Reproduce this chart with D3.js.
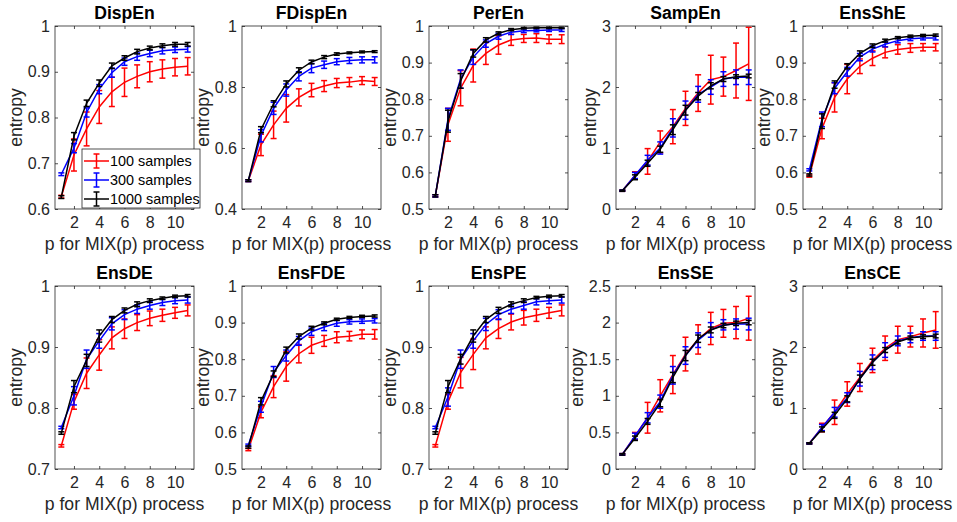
<!DOCTYPE html>
<html>
<head>
<meta charset="utf-8">
<script src="https://cdn.jsdelivr.net/npm/d3@7/dist/d3.min.js"></script>
<style>
  body { margin: 0; background: #fff; }
  svg { font-family: "Liberation Sans", Arial, sans-serif; }
</style>
</head>
<body>
<svg width="957" height="522"></svg>
<script>
/*global d3*/
var xs = [1, 2, 3, 4, 5, 6, 7, 8, 9, 10, 11];
var xTicks = [2, 4, 6, 8, 10];
var seriesNames = ["100 samples", "300 samples", "1000 samples"];
var seriesColors = ["#ff0000", "#0000ff", "#000000"];

var titles = ["DispEn", "FDispEn", "PerEn", "SampEn", "EnsShE",
              "EnsDE", "EnsFDE", "EnsPE", "EnsSE", "EnsCE"];
var yDomains = [[0.6, 1], [0.4, 1], [0.5, 1], [0, 3], [0.5, 1],
                [0.7, 1], [0.5, 1], [0.7, 1], [0, 2.5], [0, 3]];
var yTicks = [
    [0.6, 0.7, 0.8, 0.9, 1], [0.4, 0.6, 0.8, 1], [0.5, 0.6, 0.7, 0.8, 0.9, 1],
    [0, 1, 2, 3], [0.5, 0.6, 0.7, 0.8, 0.9, 1],
    [0.7, 0.8, 0.9, 1], [0.5, 0.6, 0.7, 0.8, 0.9, 1], [0.7, 0.8, 0.9, 1],
    [0, 0.5, 1, 1.5, 2, 2.5], [0, 1, 2, 3]
];

// means / error half-widths, rows = 100, 300, 1000 samples
var dispEnMean = [
    [0.627, 0.718, 0.775, 0.823, 0.856, 0.877, 0.890, 0.900, 0.906, 0.910, 0.912],
    [0.676, 0.733, 0.811, 0.862, 0.898, 0.922, 0.933, 0.940, 0.946, 0.948, 0.949],
    [0.626, 0.759, 0.831, 0.875, 0.913, 0.930, 0.944, 0.952, 0.957, 0.960, 0.960]
];
var dispEnErr = [
    [0.003, 0.035, 0.037, 0.036, 0.032, 0.031, 0.025, 0.022, 0.020, 0.019, 0.019],
    [0.003, 0.010, 0.010, 0.010, 0.010, 0.008, 0.008, 0.007, 0.007, 0.006, 0.006],
    [0.003, 0.008, 0.007, 0.007, 0.006, 0.005, 0.005, 0.004, 0.004, 0.004, 0.004]
];
var fDispEnMean = [
    [0.493, 0.610, 0.676, 0.730, 0.766, 0.790, 0.803, 0.813, 0.816, 0.821, 0.818],
    [0.493, 0.640, 0.730, 0.790, 0.835, 0.862, 0.873, 0.883, 0.887, 0.889, 0.889],
    [0.493, 0.660, 0.745, 0.810, 0.855, 0.882, 0.898, 0.908, 0.912, 0.915, 0.916]
];
var fDispEnErr = [
    [0.003, 0.035, 0.045, 0.045, 0.028, 0.022, 0.018, 0.015, 0.015, 0.013, 0.013],
    [0.003, 0.020, 0.020, 0.020, 0.015, 0.015, 0.012, 0.010, 0.010, 0.010, 0.010],
    [0.003, 0.010, 0.010, 0.010, 0.008, 0.006, 0.005, 0.004, 0.003, 0.003, 0.003]
];
var perEnMean = [
    [0.536, 0.730, 0.830, 0.892, 0.925, 0.948, 0.962, 0.966, 0.967, 0.964, 0.964],
    [0.536, 0.745, 0.855, 0.915, 0.952, 0.972, 0.983, 0.987, 0.988, 0.989, 0.989],
    [0.536, 0.740, 0.850, 0.925, 0.962, 0.980, 0.990, 0.994, 0.995, 0.995, 0.995]
];
var perEnErr = [
    [0.003, 0.045, 0.048, 0.045, 0.030, 0.025, 0.015, 0.011, 0.012, 0.012, 0.012],
    [0.003, 0.030, 0.025, 0.020, 0.010, 0.008, 0.006, 0.005, 0.004, 0.004, 0.004],
    [0.003, 0.030, 0.020, 0.010, 0.006, 0.004, 0.003, 0.002, 0.002, 0.002, 0.002]
];
var sampEnMean = [
    [0.30, 0.55, 0.78, 1.10, 1.35, 1.65, 1.90, 2.12, 2.17, 2.27, 2.38],
    [0.30, 0.55, 0.80, 1.00, 1.33, 1.62, 1.88, 2.00, 2.13, 2.16, 2.16],
    [0.30, 0.52, 0.75, 0.98, 1.30, 1.62, 1.85, 2.02, 2.13, 2.17, 2.18]
];
var sampEnErr = [
    [0.01, 0.06, 0.21, 0.18, 0.28, 0.28, 0.30, 0.40, 0.32, 0.45, 0.60],
    [0.01, 0.05, 0.08, 0.10, 0.15, 0.15, 0.13, 0.12, 0.12, 0.12, 0.12],
    [0.01, 0.04, 0.05, 0.05, 0.08, 0.08, 0.06, 0.05, 0.04, 0.03, 0.03]
];
var ensShEMean = [
    [0.590, 0.720, 0.805, 0.855, 0.890, 0.912, 0.928, 0.936, 0.940, 0.942, 0.942],
    [0.607, 0.745, 0.830, 0.875, 0.915, 0.937, 0.950, 0.960, 0.965, 0.967, 0.967],
    [0.593, 0.740, 0.840, 0.890, 0.925, 0.946, 0.960, 0.968, 0.972, 0.974, 0.975]
];
var ensShEErr = [
    [0.003, 0.028, 0.040, 0.040, 0.020, 0.020, 0.015, 0.013, 0.012, 0.010, 0.010],
    [0.003, 0.020, 0.015, 0.012, 0.010, 0.008, 0.007, 0.006, 0.005, 0.005, 0.005],
    [0.003, 0.020, 0.010, 0.007, 0.007, 0.005, 0.004, 0.003, 0.003, 0.003, 0.003]
];
var ensDEMean = [
    [0.738, 0.810, 0.857, 0.887, 0.915, 0.930, 0.940, 0.947, 0.952, 0.956, 0.960],
    [0.768, 0.820, 0.880, 0.910, 0.938, 0.953, 0.962, 0.968, 0.973, 0.976, 0.977],
    [0.759, 0.835, 0.878, 0.918, 0.945, 0.960, 0.970, 0.976, 0.980, 0.983, 0.984]
];
var ensDEErr = [
    [0.002, 0.012, 0.025, 0.025, 0.018, 0.016, 0.013, 0.012, 0.010, 0.009, 0.009],
    [0.002, 0.015, 0.015, 0.012, 0.010, 0.008, 0.007, 0.006, 0.005, 0.005, 0.005],
    [0.002, 0.010, 0.010, 0.010, 0.005, 0.004, 0.004, 0.003, 0.002, 0.002, 0.002]
];
var ensFDEMean = [
    [0.553, 0.655, 0.725, 0.780, 0.815, 0.838, 0.850, 0.860, 0.863, 0.868, 0.868],
    [0.565, 0.670, 0.765, 0.810, 0.850, 0.875, 0.888, 0.898, 0.902, 0.904, 0.905],
    [0.560, 0.685, 0.760, 0.825, 0.862, 0.885, 0.898, 0.909, 0.914, 0.917, 0.918]
];
var ensFDEErr = [
    [0.003, 0.015, 0.030, 0.040, 0.025, 0.022, 0.015, 0.015, 0.013, 0.012, 0.013],
    [0.003, 0.015, 0.015, 0.015, 0.012, 0.010, 0.010, 0.008, 0.006, 0.006, 0.006],
    [0.003, 0.010, 0.008, 0.008, 0.007, 0.005, 0.004, 0.003, 0.003, 0.003, 0.003]
];
var ensPEMean = [
    [0.738, 0.810, 0.858, 0.888, 0.915, 0.930, 0.941, 0.948, 0.952, 0.956, 0.960],
    [0.768, 0.818, 0.880, 0.910, 0.937, 0.953, 0.962, 0.968, 0.974, 0.976, 0.977],
    [0.759, 0.835, 0.880, 0.918, 0.945, 0.960, 0.970, 0.976, 0.981, 0.983, 0.984]
];
var ensPEErr = [
    [0.002, 0.012, 0.025, 0.025, 0.018, 0.016, 0.013, 0.012, 0.010, 0.009, 0.009],
    [0.002, 0.015, 0.015, 0.012, 0.010, 0.008, 0.007, 0.006, 0.005, 0.005, 0.005],
    [0.002, 0.010, 0.008, 0.010, 0.005, 0.005, 0.004, 0.003, 0.002, 0.002, 0.002]
];
var ensSEMean = [
    [0.20, 0.45, 0.70, 1.00, 1.29, 1.57, 1.77, 1.92, 1.99, 2.00, 2.06],
    [0.20, 0.45, 0.70, 0.92, 1.28, 1.55, 1.76, 1.90, 1.97, 1.98, 1.98],
    [0.20, 0.42, 0.65, 0.90, 1.25, 1.55, 1.78, 1.90, 1.96, 1.99, 2.00]
];
var ensSEErr = [
    [0.01, 0.05, 0.21, 0.22, 0.26, 0.23, 0.20, 0.22, 0.19, 0.22, 0.30],
    [0.01, 0.04, 0.07, 0.09, 0.12, 0.12, 0.10, 0.10, 0.07, 0.07, 0.08],
    [0.01, 0.03, 0.04, 0.05, 0.07, 0.07, 0.05, 0.04, 0.03, 0.03, 0.03]
];
var ensCEMean = [
    [0.42, 0.68, 0.93, 1.23, 1.50, 1.78, 1.98, 2.12, 2.17, 2.23, 2.28],
    [0.42, 0.68, 0.93, 1.17, 1.48, 1.75, 1.95, 2.10, 2.15, 2.18, 2.18],
    [0.42, 0.65, 0.88, 1.15, 1.48, 1.75, 1.95, 2.08, 2.15, 2.17, 2.18]
];
var ensCEErr = [
    [0.01, 0.07, 0.20, 0.20, 0.23, 0.20, 0.20, 0.22, 0.17, 0.23, 0.30],
    [0.01, 0.05, 0.08, 0.08, 0.12, 0.12, 0.12, 0.08, 0.08, 0.07, 0.07],
    [0.01, 0.04, 0.05, 0.05, 0.06, 0.05, 0.04, 0.03, 0.03, 0.03, 0.03]
];

var means = [dispEnMean, fDispEnMean, perEnMean, sampEnMean, ensShEMean,
             ensDEMean, ensFDEMean, ensPEMean, ensSEMean, ensCEMean];
var errs = [dispEnErr, fDispEnErr, perEnErr, sampEnErr, ensShEErr,
            ensDEErr, ensFDEErr, ensPEErr, ensSEErr, ensCEErr];

(function () {
    'use strict';

    var svg = d3.select("svg");
    var axisColor = "#262626";
    var lefts = [55, 242, 429, 616, 803];
    var tops = [26, 286];
    var w = 139, h = 183;
    var tickLen = 3, cap = 3;

    titles.forEach(function (title, i) {
        var left = lefts[i % 5], top = tops[Math.floor(i / 5)];
        var g = svg.append("g").attr("transform", "translate(" + left + "," + top + ")");

        var x = d3.scaleLinear().domain([0.5, 11.5]).range([0, w]);
        var y = d3.scaleLinear().domain(yDomains[i]).range([h, 0]);

        // axes, ticks inward, mirrored on top/right
        var fmt = function (d) { return String(d); };
        var gx = g.append("g").attr("transform", "translate(0," + h + ")")
            .call(d3.axisBottom(x).tickValues(xTicks).tickFormat(fmt)
                .tickSizeInner(-tickLen).tickSizeOuter(0).tickPadding(8));
        var gy = g.append("g")
            .call(d3.axisLeft(y).tickValues(yTicks[i]).tickFormat(fmt)
                .tickSizeInner(-tickLen).tickSizeOuter(0).tickPadding(5));
        g.append("g").call(d3.axisTop(x).tickValues(xTicks).tickFormat("")
            .tickSizeInner(-tickLen).tickSizeOuter(0));
        g.append("g").attr("transform", "translate(" + w + ",0)")
            .call(d3.axisRight(y).tickValues(yTicks[i]).tickFormat("")
                .tickSizeInner(-tickLen).tickSizeOuter(0));
        g.selectAll(".domain").remove();
        g.selectAll(".tick line").attr("stroke", axisColor).attr("stroke-width", 0.8);
        [gx, gy].forEach(function (a) {
            a.selectAll("text").attr("fill", axisColor)
                .style("font-size", "16px").style("font-family", "'Liberation Sans', Arial, sans-serif");
        });

        // data
        means[i].forEach(function (m, s) {
            var pts = xs.map(function (xv, k) { return {x: xv, m: m[k], e: errs[i][s][k]}; });
            var sg = g.append("g").attr("stroke", seriesColors[s]).attr("fill", "none")
                .attr("stroke-width", 1.5);
            sg.append("path")
                .attr("d", d3.line().x(function (d) { return x(d.x); })
                    .y(function (d) { return y(d.m); })(pts));
            var eb = sg.selectAll(".eb").data(pts).enter().append("g").attr("class", "eb");
            eb.append("line")
                .attr("x1", function (d) { return x(d.x); })
                .attr("x2", function (d) { return x(d.x); })
                .attr("y1", function (d) { return y(d.m - d.e); })
                .attr("y2", function (d) { return y(d.m + d.e); });
            eb.append("line")
                .attr("x1", function (d) { return x(d.x) - cap; })
                .attr("x2", function (d) { return x(d.x) + cap; })
                .attr("y1", function (d) { return y(d.m - d.e); })
                .attr("y2", function (d) { return y(d.m - d.e); });
            eb.append("line")
                .attr("x1", function (d) { return x(d.x) - cap; })
                .attr("x2", function (d) { return x(d.x) + cap; })
                .attr("y1", function (d) { return y(d.m + d.e); })
                .attr("y2", function (d) { return y(d.m + d.e); });
        });

        // box
        g.append("rect").attr("width", w).attr("height", h)
            .attr("fill", "none").attr("stroke", axisColor).attr("stroke-width", 0.8);

        // labels
        g.append("text").attr("x", w / 2).attr("y", -7)
            .attr("text-anchor", "middle").attr("fill", "#000")
            .style("font-size", "17.6px").style("font-weight", "bold")
            .text(title);
        g.append("text").attr("x", w / 2).attr("y", h + 41)
            .attr("text-anchor", "middle").attr("fill", axisColor)
            .style("font-size", "17.6px")
            .text("p for MIX(p) process");

        var maxW = 0;
        gy.selectAll("text").each(function () {
            maxW = Math.max(maxW, this.getComputedTextLength());
        });
        g.append("text")
            .attr("transform", "translate(" + (-5 - maxW - 6) + "," + (h / 2) + ") rotate(-90)")
            .attr("text-anchor", "middle").attr("fill", axisColor)
            .style("font-size", "17.6px")
            .text("entropy");

        // legend in the first panel
        if (i === 0) {
            var lg = g.append("g").attr("transform", "translate(" + (82 - left) + "," + (149 - top) + ")");
            lg.append("rect").attr("width", 118).attr("height", 59)
                .attr("fill", "#fff").attr("stroke", axisColor).attr("stroke-width", 0.8);
            seriesNames.forEach(function (name, s) {
                var cy = 12 + s * 19;
                var r = lg.append("g").attr("stroke", seriesColors[s]).attr("stroke-width", 1.5);
                r.append("line").attr("x1", 2).attr("x2", 27).attr("y1", cy).attr("y2", cy);
                r.append("line").attr("x1", 14.5).attr("x2", 14.5).attr("y1", cy - 7).attr("y2", cy + 7);
                r.append("line").attr("x1", 11.5).attr("x2", 17.5).attr("y1", cy - 7).attr("y2", cy - 7);
                r.append("line").attr("x1", 11.5).attr("x2", 17.5).attr("y1", cy + 7).attr("y2", cy + 7);
                lg.append("text").attr("x", 28).attr("y", cy + 5)
                    .attr("fill", "#000").style("font-size", "14.4px").text(name);
            });
        }
    });
}());
</script>
</body>
</html>
